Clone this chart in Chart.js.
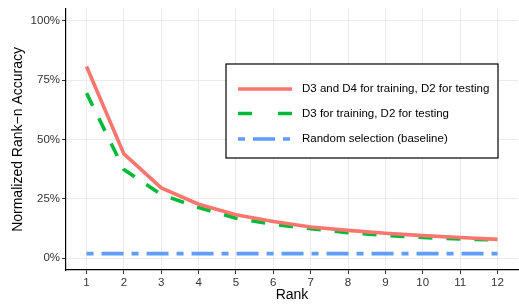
<!DOCTYPE html>
<html>
<head>
<meta charset="utf-8">
<script src="https://cdn.jsdelivr.net/npm/chart.js@4.4.1/dist/chart.umd.min.js"></script>
<style>
html,body{margin:0;padding:0;background:#fff;}
#wrap{width:519px;height:308px;position:relative;}
</style>
</head>
<body>
<div id="wrap"><canvas id="c" width="519" height="308"></canvas></div>
<script>
const ranks = [1,2,3,4,5,6,7,8,9,10,11,12];
const yTicks = [0,25,50,75,100];
const seriesNames = ["D3 and D4 for training, D2 for testing", "D3 for training, D2 for testing", "Random selection (baseline)"];
const accD3D4 = [80.7, 43.9, 29.6, 22.7, 18.3, 15.4, 13.1, 11.7, 10.5, 9.5, 8.7, 7.9];
const accD3   = [69.5, 37.3, 26.8, 21.3, 16.8, 14.2, 12.4, 10.7, 9.6, 8.7, 8.1, 7.6];
const accRandom = [1.9, 1.9, 1.9, 1.9, 1.9, 1.9, 1.9, 1.9, 1.9, 1.9, 1.9, 1.9];

const FONT = "'Liberation Sans', Arial, sans-serif";

const legendPlugin = {
  id: 'boxLegend',
  afterDatasetsDraw(chart) {
    const ctx = chart.ctx;
    const x0 = 226, y0 = 64, w = 272, h = 94;
    ctx.save();
    ctx.fillStyle = '#fff';
    ctx.fillRect(x0, y0, w, h);
    ctx.strokeStyle = '#000';
    ctx.lineWidth = 1.2;
    ctx.strokeRect(x0, y0, w, h);
    const rows = [89, 113.5, 139];
    chart.data.datasets.forEach((ds, i) => {
      const y = rows[i];
      ctx.beginPath();
      ctx.strokeStyle = ds.borderColor;
      ctx.lineWidth = ds.borderWidth;
      ctx.setLineDash(ds.legendDash || []);
      ctx.moveTo(238, y);
      ctx.lineTo(292, y);
      ctx.stroke();
      ctx.setLineDash([]);
      ctx.fillStyle = '#000';
      ctx.font = '11.5px ' + FONT;
      ctx.textBaseline = 'middle';
      ctx.textAlign = 'left';
      ctx.fillText(ds.label, 302, y);
    });
    ctx.restore();
  }
};

new Chart(document.getElementById('c'), {
  type: 'line',
  data: {
    labels: ranks,
    datasets: [
      { label: seriesNames[0], data: ranks.map((r,i)=>({x:r,y:accD3D4[i]})), borderColor: '#F8766D', borderWidth: 3.6, pointRadius: 0, tension: 0, legendDash: [] , borderCapStyle:'butt'},
      { label: seriesNames[1], data: ranks.map((r,i)=>({x:r,y:accD3[i]})), borderColor: '#00BA38', borderWidth: 3.6, pointRadius: 0, tension: 0, borderDash: [14,14], legendDash: [14,26], borderCapStyle:'butt'},
      { label: seriesNames[2], data: ranks.map((r,i)=>({x:r,y:accRandom[i]})), borderColor: '#619CFF', borderWidth: 3.6, pointRadius: 0, tension: 0, borderDash: [7,8,22,8], legendDash: [7,8,22,8], borderCapStyle:'butt'}
    ]
  },
  options: {
    responsive: false,
    animation: false,
    events: [],
    layout: { padding: { top: 4, right: 1, left: 0, bottom: 0 } },
    plugins: { legend: { display: false }, tooltip: { enabled: false } },
    scales: {
      x: {
        type: 'linear',
        min: 0.45, max: 12.55,
        afterBuildTicks: s => { s.ticks = ranks.map(v => ({value: v})); },
        afterFit: s => { s.height = 38; },
        border: { display: true, color: '#000', width: 1.2 },
        grid: { color: '#EBEBEB', lineWidth: 1, tickLength: 4, tickColor: '#333', tickWidth: 1 },
        ticks: { color: '#333', font: { family: FONT, size: 11.5 }, padding: 2, maxRotation: 0, autoSkip: false },
        title: { display: true, text: 'Rank', color: '#000', font: { family: FONT, size: 14 }, padding: { top: 0, bottom: 4 } }
      },
      y: {
        min: -5, max: 105,
        afterBuildTicks: s => { s.ticks = yTicks.map(v => ({value: v})); },
        afterFit: s => { s.width = 66; },
        border: { display: true, color: '#000', width: 1.2 },
        grid: { color: '#EBEBEB', lineWidth: 1, tickLength: 4, tickColor: '#333', tickWidth: 1 },
        ticks: { color: '#333', font: { family: FONT, size: 11.5 }, padding: 2, callback: v => v + '%' },
        title: { display: true, text: 'Normalized Rank\u2212n Accuracy', color: '#000', font: { family: FONT, size: 14 }, padding: { top: 10, bottom: 0 } }
      }
    }
  },
  plugins: [legendPlugin]
});
</script>
</body>
</html>
